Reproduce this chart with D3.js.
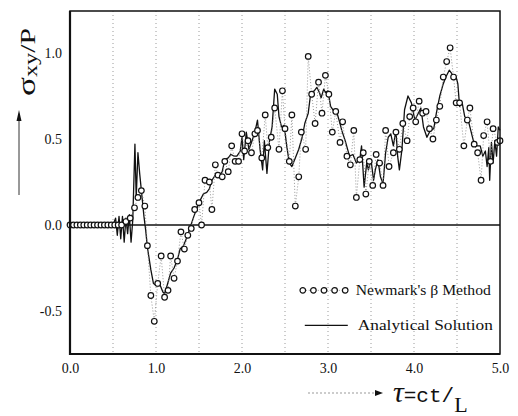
<!DOCTYPE html>
<html>
<head>
<meta charset="utf-8">
<script src="https://cdn.jsdelivr.net/npm/d3@7"></script>
<style>
  body { margin: 0; background: #fff; }
  text { font-family: "Liberation Serif", serif; fill: #111; }
</style>
</head>
<body>
<svg id="chart"></svg>
<script>
// Newmark's beta method, [tau, sigma_xy/P]
var newmark = [
  [0, 0], [0.04, 0], [0.08, 0], [0.12, 0], [0.16, 0], [0.2, 0], [0.24, 0], [0.28, 0],
  [0.32, 0], [0.36, 0], [0.4, 0], [0.44, 0], [0.48, 0], [0.52, 0], [0.56, 0], [0.6, 0],
  [0.65, 0.02], [0.70, 0.04], [0.75, 0.10], [0.79, 0.16], [0.83, 0.20], [0.87, 0.11],
  [0.90, -0.12], [0.94, -0.41], [0.98, -0.56], [1.02, -0.34], [1.06, -0.18], [1.10, -0.42],
  [1.14, -0.38], [1.17, -0.18], [1.21, -0.31], [1.25, -0.21], [1.29, -0.04], [1.33, -0.14],
  [1.37, -0.06], [1.41, -0.02], [1.45, 0.09], [1.50, 0.13], [1.53, 0.00], [1.57, 0.26],
  [1.62, 0.25], [1.65, 0.09], [1.69, 0.35], [1.72, 0.29], [1.77, 0.28], [1.80, 0.37],
  [1.84, 0.31], [1.88, 0.46], [1.92, 0.37], [1.96, 0.37], [2.00, 0.53], [2.03, 0.43],
  [2.07, 0.49], [2.11, 0.42], [2.15, 0.53], [2.18, 0.55], [2.23, 0.39], [2.27, 0.64],
  [2.30, 0.45], [2.34, 0.51], [2.38, 0.68], [2.43, 0.44], [2.47, 0.78], [2.50, 0.56],
  [2.55, 0.37], [2.58, 0.64], [2.62, 0.11], [2.66, 0.28], [2.69, 0.54], [2.74, 0.44],
  [2.77, 0.98], [2.81, 0.76], [2.85, 0.59], [2.89, 0.83], [2.93, 0.65], [2.97, 0.87],
  [3.01, 0.76], [3.05, 0.54], [3.09, 0.66], [3.14, 0.48], [3.17, 0.60], [3.22, 0.40],
  [3.26, 0.35], [3.30, 0.55], [3.33, 0.16], [3.37, 0.38], [3.41, 0.42], [3.44, 0.18],
  [3.48, 0.37], [3.52, 0.23], [3.56, 0.41], [3.60, 0.36], [3.64, 0.23], [3.67, 0.55],
  [3.71, 0.34], [3.76, 0.42], [3.79, 0.54], [3.83, 0.44], [3.87, 0.59], [3.92, 0.49],
  [3.95, 0.63], [3.99, 0.68], [4.02, 0.60], [4.06, 0.72], [4.10, 0.65], [4.14, 0.66],
  [4.18, 0.56], [4.22, 0.50], [4.26, 0.61], [4.30, 0.69], [4.34, 0.86], [4.38, 0.95],
  [4.42, 1.03], [4.46, 0.86], [4.49, 0.71], [4.53, 0.71], [4.58, 0.46], [4.62, 0.61],
  [4.65, 0.68], [4.70, 0.47], [4.74, 0.42], [4.78, 0.26], [4.81, 0.52], [4.85, 0.60],
  [4.89, 0.37], [4.92, 0.56], [4.97, 0.48], [5.00, 0.49]
];

// analytical solution, [tau, sigma_xy/P]
var analytical = [
  [0, 0], [0.50, 0], [0.53, 0.04], [0.55, -0.06], [0.57, 0.05], [0.59, -0.08], [0.61, 0.05],
  [0.63, -0.10], [0.65, 0.04], [0.67, -0.05], [0.69, 0.06], [0.71, -0.10], [0.73, 0.03],
  [0.755, 0.47], [0.77, 0.16], [0.79, 0.42], [0.81, 0.30], [0.83, 0.20], [0.86, 0.05],
  [0.88, -0.03], [0.90, -0.13], [0.94, -0.26], [0.97, -0.34], [1.00, -0.35], [1.04, -0.34],
  [1.08, -0.39], [1.10, -0.40], [1.13, -0.35], [1.17, -0.28], [1.21, -0.25], [1.25, -0.20],
  [1.28, -0.14], [1.32, -0.12], [1.36, -0.07], [1.40, -0.01], [1.44, 0.05], [1.47, 0.09],
  [1.51, 0.14], [1.55, 0.18], [1.59, 0.19], [1.62, 0.21], [1.65, 0.26], [1.69, 0.29],
  [1.73, 0.28], [1.77, 0.31], [1.80, 0.38], [1.84, 0.39], [1.87, 0.41], [1.91, 0.40],
  [1.94, 0.40], [1.98, 0.43], [2.00, 0.51], [2.02, 0.38], [2.05, 0.54], [2.08, 0.44],
  [2.11, 0.48], [2.15, 0.54], [2.18, 0.61], [2.21, 0.44], [2.24, 0.32], [2.26, 0.49],
  [2.29, 0.30], [2.32, 0.49], [2.35, 0.57], [2.38, 0.79], [2.41, 0.76], [2.43, 0.63],
  [2.46, 0.57], [2.49, 0.58], [2.52, 0.46], [2.55, 0.36], [2.58, 0.34], [2.62, 0.39],
  [2.66, 0.44], [2.70, 0.51], [2.73, 0.59], [2.77, 0.65], [2.80, 0.77], [2.84, 0.78],
  [2.87, 0.80], [2.90, 0.77], [2.92, 0.74], [2.95, 0.79], [2.97, 0.77], [3.00, 0.78],
  [3.03, 0.69], [3.07, 0.66], [3.10, 0.66], [3.14, 0.59], [3.16, 0.55], [3.20, 0.49],
  [3.25, 0.40], [3.29, 0.41], [3.33, 0.36], [3.37, 0.38], [3.39, 0.46], [3.42, 0.22],
  [3.45, 0.36], [3.47, 0.32], [3.50, 0.38], [3.53, 0.26], [3.55, 0.32], [3.58, 0.38],
  [3.61, 0.28], [3.64, 0.24], [3.67, 0.42], [3.70, 0.51], [3.73, 0.53], [3.76, 0.46],
  [3.79, 0.55], [3.81, 0.40], [3.83, 0.32], [3.86, 0.44], [3.89, 0.67], [3.93, 0.75],
  [3.97, 0.71], [4.01, 0.61], [4.05, 0.65], [4.08, 0.68], [4.11, 0.57], [4.15, 0.51],
  [4.19, 0.55], [4.23, 0.56], [4.26, 0.65], [4.30, 0.75], [4.34, 0.82], [4.37, 0.86],
  [4.41, 0.90], [4.44, 0.88], [4.46, 0.85], [4.49, 0.86], [4.51, 0.82], [4.53, 0.69],
  [4.56, 0.71], [4.59, 0.63], [4.63, 0.61], [4.65, 0.57], [4.69, 0.49], [4.73, 0.46],
  [4.77, 0.46], [4.80, 0.40], [4.83, 0.43], [4.85, 0.34], [4.87, 0.45], [4.88, 0.26],
  [4.90, 0.48], [4.92, 0.36], [4.94, 0.49], [4.96, 0.40], [4.98, 0.57], [5.00, 0.55]
];

var xTicks = [0, 1, 2, 3, 4, 5];
var yTicks = [-0.5, 0, 0.5, 1.0];
var gridTicks = [0.5, 1, 1.5, 2, 2.5, 3, 3.5, 4, 4.5];
var legendLabels = ["Newmark's \u03b2 Method", "Analytical Solution"];

var render = (selector, size) => {
  var margin = size.margin;
  var width = size.width - margin.left - margin.right;
  var height = size.height - margin.top - margin.bottom;

  var x = d3.scaleLinear()
    .domain([0, 5])
    .range([0, width]);

  var y = d3.scaleLinear()
    .domain([-0.75, 1.244])
    .range([height, 0]);

  var svg = d3.select(selector)
    .attr('width', size.width)
    .attr('height', size.height);

  var chart = svg.append('g')
    .attr('transform', `translate(${ margin.left }, ${ margin.top })`);

  // dotted vertical grid
  chart.selectAll('.grid')
    .data(gridTicks)
    .enter().append('line')
    .attr('class', 'grid')
    .attr('x1', d => x(d))
    .attr('x2', d => x(d))
    .attr('y1', 0)
    .attr('y2', height)
    .attr('stroke', '#9a9a9a')
    .attr('stroke-width', 1)
    .attr('stroke-dasharray', '1,3');

  // zero line
  chart.append('line')
    .attr('x1', 0)
    .attr('x2', width)
    .attr('y1', y(0))
    .attr('y2', y(0))
    .attr('stroke', '#111')
    .attr('stroke-width', 1.5);

  var line = d3.line()
    .x(d => x(d[0]))
    .y(d => y(d[1]));

  chart.append('path')
    .datum(analytical)
    .attr('d', line)
    .attr('fill', 'none')
    .attr('stroke', '#111')
    .attr('stroke-width', 1.3)
    .attr('stroke-linejoin', 'round');

  chart.append('path')
    .datum(newmark)
    .attr('d', line)
    .attr('fill', 'none')
    .attr('stroke', '#8a8a8a')
    .attr('stroke-width', 0.9)
    .attr('stroke-dasharray', '1,2');

  chart.selectAll('.pt')
    .data(newmark)
    .enter().append('circle')
    .attr('class', 'pt')
    .attr('cx', d => x(d[0]))
    .attr('cy', d => y(d[1]))
    .attr('r', 2.8)
    .attr('fill', '#fff')
    .attr('stroke', '#111')
    .attr('stroke-width', 1.2);

  // frame
  chart.append('rect')
    .attr('width', width)
    .attr('height', height)
    .attr('fill', 'none')
    .attr('stroke', '#111')
    .attr('stroke-width', 1.5);
  chart.append('path')
    .attr('d', `M0,0V${ height }H${ width }`)
    .attr('fill', 'none')
    .attr('stroke', '#111')
    .attr('stroke-width', 2.2);

  var xAxis = d3.axisBottom(x)
    .tickValues(xTicks)
    .tickFormat(d => d.toFixed(1))
    .tickSize(0)
    .tickPadding(9);

  var yAxis = d3.axisLeft(y)
    .tickValues(yTicks)
    .tickFormat(d => d.toFixed(1))
    .tickSize(0)
    .tickPadding(8);

  var gx = chart.append('g')
    .attr('transform', `translate(0, ${ height })`)
    .call(xAxis);
  var gy = chart.append('g')
    .call(yAxis);

  [gx, gy].forEach(g => {
    g.select('.domain').remove();
    g.selectAll('text')
      .attr('font-family', '"Liberation Serif", serif')
      .attr('font-size', 14)
      .attr('fill', '#111');
  });

  // legend
  var lg = chart.append('g')
    .attr('transform', `translate(${ x(4.3) - 137 }, ${ y(-0.38) })`);
  var legendDots = d3.range(5).map(i => i * 10.6);
  lg.append('line')
    .attr('x1', 0).attr('x2', 42.4)
    .attr('stroke', '#8a8a8a')
    .attr('stroke-width', 0.9)
    .attr('stroke-dasharray', '1,2');
  lg.selectAll('circle')
    .data(legendDots)
    .enter().append('circle')
    .attr('cx', d => d)
    .attr('r', 2.8)
    .attr('fill', '#fff')
    .attr('stroke', '#111')
    .attr('stroke-width', 1.2);
  lg.append('text')
    .attr('x', 53)
    .attr('y', 5)
    .attr('font-size', 15)
    .attr('textLength', 135)
    .attr('lengthAdjust', 'spacingAndGlyphs')
    .text(legendLabels[0]);
  lg.append('line')
    .attr('x1', 2).attr('x2', 45)
    .attr('y1', 35).attr('y2', 35)
    .attr('stroke', '#111')
    .attr('stroke-width', 1.3);
  lg.append('text')
    .attr('x', 55)
    .attr('y', 40)
    .attr('font-size', 15)
    .attr('textLength', 135)
    .attr('lengthAdjust', 'spacingAndGlyphs')
    .text(legendLabels[1]);

  // y label with arrow
  var yl = svg.append('text')
    .attr('transform', 'translate(35, 62) rotate(-90) scale(1.35, 1)')
    .attr('text-anchor', 'middle');
  yl.append('tspan').attr('font-size', 26).text('\u03c3');
  yl.append('tspan').attr('font-size', 18).attr('dy', 2).text('xy');
  yl.append('tspan').attr('font-size', 22).attr('dy', -2).text('/P');

  svg.append('line')
    .attr('x1', 19).attr('x2', 19)
    .attr('y1', 195).attr('y2', 118)
    .attr('stroke', '#333')
    .attr('stroke-width', 1);
  svg.append('path')
    .attr('d', 'M16.5,121L19,110L21.5,121Z')
    .attr('fill', '#111');

  // x label with arrow
  svg.append('line')
    .attr('x1', 308).attr('x2', 377)
    .attr('y1', 393).attr('y2', 393)
    .attr('stroke', '#999')
    .attr('stroke-width', 1)
    .attr('stroke-dasharray', '2,2');
  svg.append('path')
    .attr('d', 'M375,390L383,393L375,396Z')
    .attr('fill', '#111');

  var xl = svg.append('text')
    .attr('x', 393)
    .attr('y', 402);
  xl.append('tspan').attr('font-size', 30).attr('font-style', 'italic').text('\u03c4');
  xl.append('tspan').attr('font-size', 21).attr('font-family', '"Liberation Mono", monospace').text('=ct/');
  xl.append('tspan').attr('font-size', 22).attr('dy', 10).text('L');
};

document.addEventListener('DOMContentLoaded', () => {
  var settings = {
    width: 518,
    height: 416,
    margin: { top: 11, right: 18, bottom: 62, left: 70 }
  };
  render('#chart', settings);
});
</script>
</body>
</html>
